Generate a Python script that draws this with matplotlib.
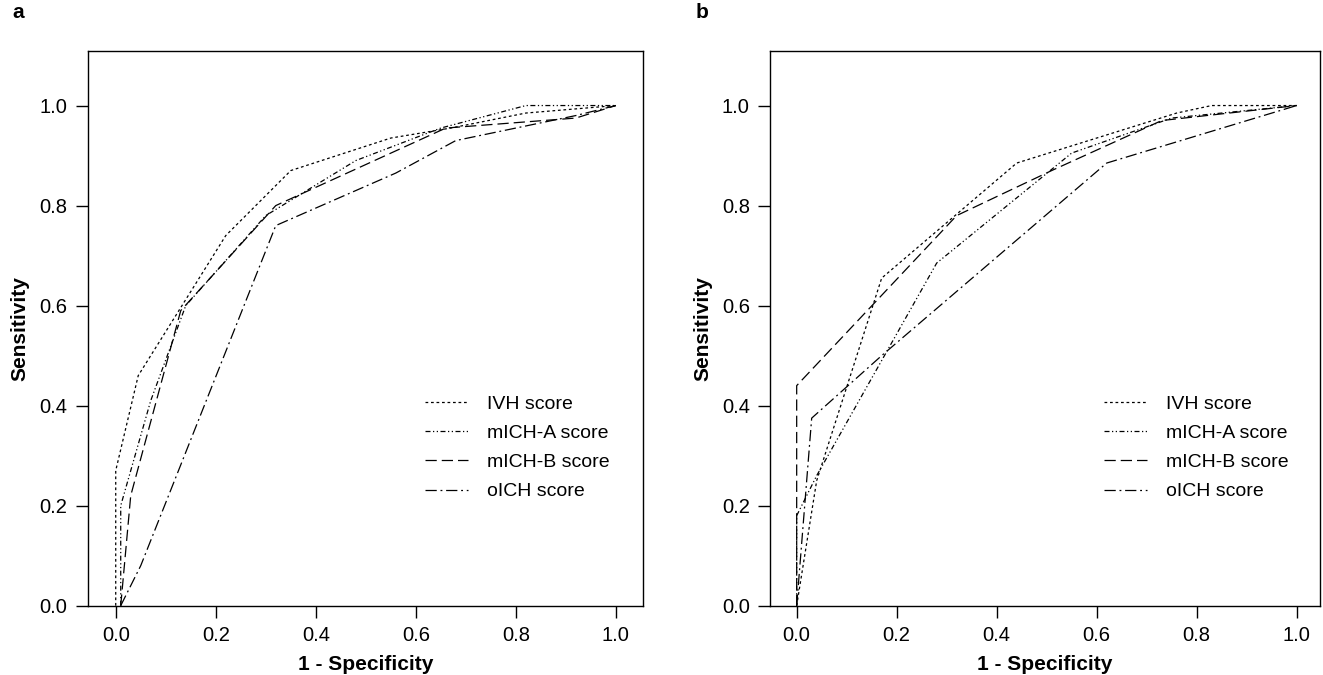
#!/usr/bin/env python3
# -*- coding: utf-8 -*-
"""
ROC curves for four ICH scores (two panels, a and b)
"""

import matplotlib
matplotlib.use('Agg')
import matplotlib.pyplot as plt

plt.rcParams['font.family'] = ['Liberation Sans', 'DejaVu Sans']

# panel a: 1 - specificity / sensitivity
a_ivh_x = [0.0, 0.0, 0.045, 0.22, 0.35, 0.55, 0.67, 0.82, 1.0]
a_ivh_y = [0.0, 0.27, 0.46, 0.74, 0.87, 0.935, 0.955, 0.985, 1.0]
a_micha_x = [0.01, 0.01, 0.07, 0.14, 0.30, 0.48, 0.65, 0.82, 1.0]
a_micha_y = [0.0, 0.20, 0.41, 0.60, 0.78, 0.89, 0.955, 1.0, 1.0]
a_michb_x = [0.01, 0.03, 0.13, 0.32, 0.66, 0.92, 1.0]
a_michb_y = [0.0, 0.22, 0.59, 0.80, 0.955, 0.975, 1.0]
a_oich_x = [0.01, 0.05, 0.32, 0.56, 0.68, 0.92, 1.0]
a_oich_y = [0.0, 0.08, 0.76, 0.865, 0.93, 0.98, 1.0]

# panel b
b_ivh_x = [0.0, 0.04, 0.17, 0.44, 0.76, 0.83, 1.0]
b_ivh_y = [0.0, 0.25, 0.655, 0.885, 0.985, 1.0, 1.0]
b_micha_x = [0.0, 0.0, 0.04, 0.28, 0.55, 0.75, 1.0]
b_micha_y = [0.0, 0.18, 0.26, 0.685, 0.905, 0.975, 1.0]
b_michb_x = [0.0, 0.0, 0.32, 0.51, 0.73, 1.0]
b_michb_y = [0.0, 0.44, 0.78, 0.87, 0.97, 1.0]
b_oich_x = [0.0, 0.03, 0.17, 0.62, 1.0]
b_oich_y = [0.0, 0.375, 0.50, 0.885, 1.0]

labels = ['IVH score', 'mICH-A score', 'mICH-B score', 'oICH score']
ticks = [0.0, 0.2, 0.4, 0.6, 0.8, 1.0]
tick_labels = ['0.0', '0.2', '0.4', '0.6', '0.8', '1.0']

# 线型
styles = [(0, (2.2, 2.2)), (0, (4, 2, 1, 2, 1, 2)), (0, (9, 4)), (0, (9, 3, 1.5, 3))]


def draw_panel(ax, curves, xlim, letter):
    for (x, y), ls, lab in zip(curves, styles, labels):
        ax.plot(x, y, color='black', linestyle=ls, linewidth=0.9, label=lab)
    ax.set_xlim(*xlim)
    ax.set_ylim(0, 1.109)
    ax.set_xticks(ticks)
    ax.set_xticklabels(tick_labels)
    ax.set_yticks(ticks)
    ax.set_yticklabels(tick_labels)
    ax.tick_params(direction='out', length=8.5, width=1, labelsize=14.5, pad=6)
    for sp in ax.spines.values():
        sp.set_linewidth(1)
    ax.set_xlabel('1 - Specificity', fontsize=15, fontweight='bold', labelpad=7)
    ax.set_ylabel('Sensitivity', fontsize=15, fontweight='bold', labelpad=7)
    ax.legend(loc='upper left', bbox_to_anchor=(0.607, 0.38), frameon=False,
              fontsize=14, handlelength=2.2, handletextpad=1.0, labelspacing=0.6,
              borderaxespad=0, borderpad=0)
    ax.text(-0.135, 1.07, letter, transform=ax.transAxes, fontsize=15,
            fontweight='bold', va='center', ha='left')


def main():
    fig = plt.figure(figsize=(13.23, 6.75), dpi=100)
    ax1 = fig.add_axes([0.0663, 0.1027, 0.42, 0.8217])
    ax2 = fig.add_axes([0.582, 0.1027, 0.4157, 0.8217])

    draw_panel(ax1, [(a_ivh_x, a_ivh_y), (a_micha_x, a_micha_y),
                     (a_michb_x, a_michb_y), (a_oich_x, a_oich_y)],
               (-0.056, 1.055), 'a')
    draw_panel(ax2, [(b_ivh_x, b_ivh_y), (b_micha_x, b_micha_y),
                     (b_michb_x, b_michb_y), (b_oich_x, b_oich_y)],
               (-0.0534, 1.0466), 'b')

    fig.savefig('out.png', dpi=100)
    plt.close(fig)


if __name__ == '__main__':
    main()
